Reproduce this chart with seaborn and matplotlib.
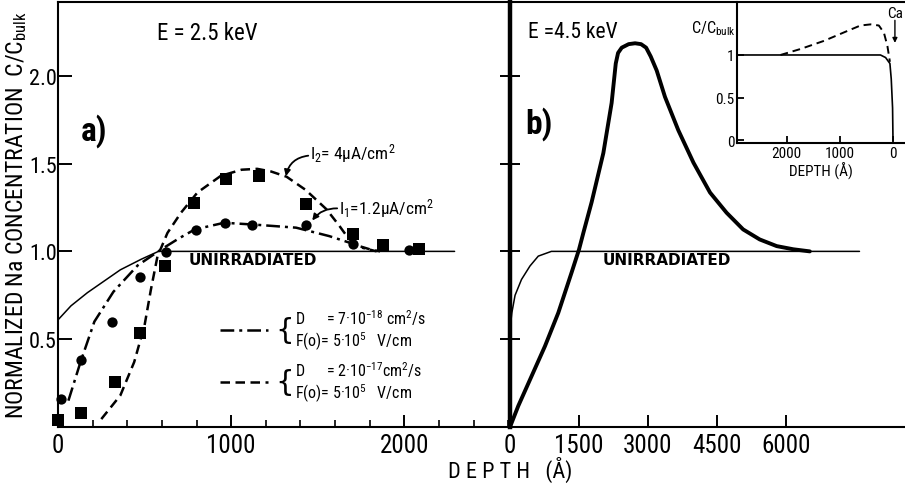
import matplotlib
matplotlib.use("Agg")
import matplotlib.pyplot as plt
import seaborn as sns
from matplotlib import font_manager
from matplotlib.ticker import FixedLocator, MultipleLocator

# ---- panel a)  E = 2.5 keV -------------------------------------------
a_unirr_x = [0, 75, 170, 360, 480, 580, 2290]
a_unirr_y = [0.61, 0.69, 0.765, 0.895, 0.955, 1.0, 1.0]

# dash-dot fit, D = 7e-18
a_fit1_x = [60, 130, 210, 320, 460, 594, 700, 790, 960, 1140, 1375, 1566, 1682, 1760, 1840]
a_fit1_y = [0.15, 0.37, 0.60, 0.77, 0.92, 1.01, 1.075, 1.125, 1.163, 1.152, 1.135, 1.087, 1.05, 1.02, 1.0]

# dashed fit, D = 2e-17
a_fit2_x = [250, 360, 440, 500, 536, 574, 632, 710, 805, 940, 1060, 1150, 1230, 1320,
            1430, 1550, 1625, 1680, 1740, 1800, 1860]
a_fit2_y = [0.045, 0.18, 0.37, 0.58, 0.78, 0.97, 1.105, 1.22, 1.335, 1.43, 1.465, 1.47, 1.455, 1.425,
            1.35, 1.24, 1.145, 1.07, 1.03, 1.012, 1.0]

# measured points, I1 = 1.2 uA/cm2 (circles) and I2 = 4 uA/cm2 (squares)
a_i1_x = [16, 131, 314, 472, 622, 796, 963, 1123, 1432, 1701, 2029]
a_i1_y = [0.16, 0.38, 0.60, 0.856, 0.996, 1.12, 1.163, 1.153, 1.153, 1.04, 1.01]
a_i2_x = [0, 131, 330, 474, 618, 786, 969, 1162, 1432, 1701, 1875, 2087]
a_i2_y = [0.04, 0.08, 0.254, 0.538, 0.917, 1.277, 1.413, 1.428, 1.267, 1.097, 1.034, 1.011]

# ---- panel b)  E = 4.5 keV -------------------------------------------
b_unirr_x = [0, 15, 40, 110, 250, 435, 615, 900, 7600]
b_unirr_y = [0.53, 0.59, 0.65, 0.75, 0.84, 0.917, 0.973, 1.0, 1.0]
b_irr_x = [0, 180, 470, 760, 1050, 1340, 1500, 1600, 1775, 2030, 2210, 2260, 2300, 2350, 2430,
           2580, 2720, 2850, 2960, 3060, 3190, 3370, 3660, 3990, 4350, 4710, 5070, 5430, 5800,
           6160, 6520]
b_irr_y = [0, 0.12, 0.29, 0.46, 0.65, 0.88, 1.01, 1.11, 1.28, 1.56, 1.845, 1.97, 2.07, 2.13, 2.16,
           2.18, 2.185, 2.18, 2.16, 2.11, 2.03, 1.88, 1.69, 1.505, 1.335, 1.22, 1.125, 1.068, 1.03,
           1.012, 1.0]

# inset: Na profile near the Ca layer
ins_solid_x = [2930, 240, 144, 63, 38, 13, 5]
ins_solid_y = [1.0, 1.0, 0.97, 0.90, 0.72, 0.38, 0.0]
ins_dash_x = [2115, 1740, 1300, 865, 615, 425, 270, 175, 110, 63]
ins_dash_y = [1.0, 1.07, 1.165, 1.28, 1.345, 1.358, 1.345, 1.26, 1.105, 0.92]

y_ticks = [0.5, 1.0, 1.5, 2.0]
y_ticklabels = ["0.5", "1.0", "1.5", "2.0"]
a_xticks = [0, 1000, 2000]
b_xticks = [0, 1500, 3000, 4500, 6000]
ins_xticks = [2000, 1000, 0]
ins_yticks = [0, 0.5, 1]

sns.set_style("ticks")

# pick a narrow face if one is installed
entries = font_manager.fontManager.ttflist
names = {f.name for f in entries}
STRETCH = "normal"
FONT = None
for cand in ["Liberation Sans Narrow", "Roboto Condensed", "Open Sans Condensed",
             "Noto Sans Condensed", "DejaVu Sans Condensed"]:
    if cand in names:
        FONT = cand
        break
if FONT is None:
    cond = [f for f in entries if "condensed" in str(f.stretch).lower() or "Condensed" in f.fname
            or "Narrow" in f.fname]
    if cond:
        FONT = cond[0].name
        STRETCH = "condensed"
    else:
        FONT = "Liberation Sans"

plt.rcParams["font.family"] = [FONT, "DejaVu Sans"]
plt.rcParams["font.stretch"] = STRETCH
plt.rcParams["mathtext.fontset"] = "custom"
plt.rcParams["mathtext.rm"] = FONT
plt.rcParams["mathtext.it"] = FONT + ":italic"
plt.rcParams["mathtext.bf"] = FONT + ":bold"
plt.rcParams["mathtext.default"] = "regular"
plt.rcParams["axes.linewidth"] = 1.5
for key in ["text.color", "axes.labelcolor", "xtick.color", "ytick.color", "axes.edgecolor"]:
    plt.rcParams[key] = "black"

fig = plt.figure(figsize=(9.05, 4.89), dpi=100)
L, R, B, T = 58 / 905, 510 / 905, 1 - 428 / 489, 1 - 3 / 489
ax_a = fig.add_axes([L, B, R - L, T - B])
ax_b = fig.add_axes([R, B, 1.0 - R, T - B])

line_kw = dict(color="k", sort=False, estimator=None)

# panel a curves
sns.lineplot(x=a_unirr_x, y=a_unirr_y, ax=ax_a, lw=1.1, **line_kw)
sns.lineplot(x=a_fit1_x, y=a_fit1_y, ax=ax_a, lw=1.8, ls=(0, (5.5, 2, 1.2, 2)), **line_kw)
fit1_line = ax_a.lines[-1]
sns.lineplot(x=a_fit2_x, y=a_fit2_y, ax=ax_a, lw=1.8, ls=(0, (3.8, 2.2)), **line_kw)
fit2_line = ax_a.lines[-1]
sns.scatterplot(x=a_i1_x, y=a_i1_y, ax=ax_a, marker="o", s=55, color="k", edgecolor="k",
                linewidth=0, zorder=4, clip_on=False)
sns.scatterplot(x=a_i2_x, y=a_i2_y, ax=ax_a, marker="s", s=64, color="k", edgecolor="k",
                linewidth=0, zorder=4, clip_on=False)

# panel b curves
sns.lineplot(x=b_unirr_x, y=b_unirr_y, ax=ax_b, lw=1.1, **line_kw)
sns.lineplot(x=b_irr_x, y=b_irr_y, ax=ax_b, lw=2.8, **line_kw)

for ax in (ax_a, ax_b):
    ax.set_ylim(0, 2.42)
    ax.set_xlabel("")
    ax.set_ylabel("")
    ax.yaxis.set_major_locator(FixedLocator(y_ticks))
ax_a.set_xlim(0, 2610)
ax_b.set_xlim(0, 8590)

# axes a styling
ax_a.spines["right"].set_visible(False)
ax_a.set_yticklabels(y_ticklabels)
ax_a.tick_params(axis="y", direction="in", length=10, width=1.4, labelsize=16, pad=1)
ax_a.xaxis.set_major_locator(FixedLocator(a_xticks))
ax_a.xaxis.set_minor_locator(MultipleLocator(200))
ax_a.tick_params(axis="x", which="major", direction="in", length=9, width=1.4, labelsize=18, pad=4)
ax_a.tick_params(axis="x", which="minor", direction="in", length=5, width=1.2)
ax_a.set_ylabel("NORMALIZED Na CONCENTRATION  C/C$_{bulk}$", fontsize=17, labelpad=0)

# axes b styling
ax_b.spines["right"].set_visible(False)
ax_b.spines["left"].set_linewidth(3.2)
ax_b.tick_params(axis="y", direction="inout", length=14, width=1.4, labelleft=False)
ax_b.xaxis.set_major_locator(FixedLocator(b_xticks))
ax_b.tick_params(axis="x", direction="in", length=9, width=1.4, labelsize=18, pad=4)

# panel a annotations
ax_a.text(572, 2.244, "E = 2.5 keV", fontsize=16.5, va="center")
ax_a.text(133, 1.69, "a)", fontsize=24, fontweight="bold", va="center")
ax_a.text(757, 0.955, "UNIRRADIATED", fontsize=11, fontweight="bold", family="DejaVu Sans",
          stretch="normal", va="center")
ax_a.text(1455, 1.565, "I$_2$= 4μA/cm$^2$", fontsize=12.5, va="center")
ax_a.annotate("", xy=(1316, 1.428), xytext=(1445, 1.545),
              arrowprops=dict(arrowstyle="-|>", color="k", lw=1.3, mutation_scale=9,
                              connectionstyle="arc3,rad=0.35", shrinkA=0, shrinkB=0))
ax_a.text(1625, 1.25, "I$_1$=1.2μA/cm$^2$", fontsize=12.5, va="center")
ax_a.annotate("", xy=(1468, 1.176), xytext=(1612, 1.245),
              arrowprops=dict(arrowstyle="-|>", color="k", lw=1.3, mutation_scale=9,
                              connectionstyle="arc3,rad=0.25", shrinkA=0, shrinkB=0))

lab1 = "D      = 7·10$^{-18}$ cm$^2$/s\nF(o)= 5·10$^5$   V/cm"
lab2 = "D      = 2·10$^{-17}$cm$^2$/s\nF(o)= 5·10$^5$   V/cm"
leg = ax_a.legend([fit1_line, fit2_line], [lab1, lab2], loc="upper left",
                  bbox_to_anchor=(0.358, 0.281), frameon=False, fontsize=11.5,
                  handlelength=3.0, handletextpad=1.7, labelspacing=0.45,
                  borderpad=0, borderaxespad=0)
for t in leg.get_texts():
    t.set_linespacing(1.15)

# panel b annotations
ax_b.text(391, 2.25, "E =4.5 keV", fontsize=15.5, va="center")
ax_b.text(326, 1.733, "b)", fontsize=24, fontweight="bold", va="center")
ax_b.text(2022, 0.955, "UNIRRADIATED", fontsize=11, fontweight="bold", family="DejaVu Sans",
          stretch="normal", va="center")

# shared x label
fig.text(510 / 905, 1 - 470 / 489, "D E P T H   (Å)", fontsize=16, ha="center", va="center")

# inset
ax_in = fig.add_axes([737 / 905, 1 - 144 / 489, 168 / 905, 141 / 489])
sns.lineplot(x=ins_solid_x, y=ins_solid_y, ax=ax_in, lw=1.2, **line_kw)
sns.lineplot(x=ins_dash_x, y=ins_dash_y, ax=ax_in, lw=1.4, ls=(0, (4, 2.5)), **line_kw)
ax_in.set_xlim(2930, -220)
ax_in.set_ylim(-0.03, 1.62)
ax_in.set_xlabel("DEPTH (Å)", fontsize=11, labelpad=1)
ax_in.set_ylabel("")
ax_in.xaxis.set_major_locator(FixedLocator(ins_xticks))
ax_in.yaxis.set_major_locator(FixedLocator(ins_yticks))
ax_in.set_yticklabels(["0", "0.5", "1"])
ax_in.tick_params(direction="in", length=5, width=1.3, labelsize=11, pad=2)
ax_in.spines["right"].set_visible(False)
ax_in.spines["top"].set_visible(False)
ax_in.patch.set_alpha(0)
ax_in.text(-0.01, 0.82, "C/C$_{bulk}$", transform=ax_in.transAxes, fontsize=11.5,
           ha="right", va="center")
ax_in.text(0.94, 0.92, "Ca", transform=ax_in.transAxes, fontsize=11, ha="center", va="center")
ax_in.annotate("", xy=(0.94, 0.71), xytext=(0.94, 0.87), xycoords="axes fraction",
               arrowprops=dict(arrowstyle="-|>", color="k", lw=1.0, mutation_scale=7,
                               shrinkA=0, shrinkB=0))

# braces in front of the legend entries
fig.canvas.draw()
inv = fig.transFigure.inverted()
for t in leg.get_texts():
    bb = t.get_window_extent()
    x0, y0 = inv.transform((bb.x0 - 1, (bb.y0 + bb.y1) / 2))
    fig.text(x0, y0, "{", fontsize=21, family="DejaVu Sans", stretch="normal",
             ha="right", va="center")

fig.savefig("out.png", dpi=100)
